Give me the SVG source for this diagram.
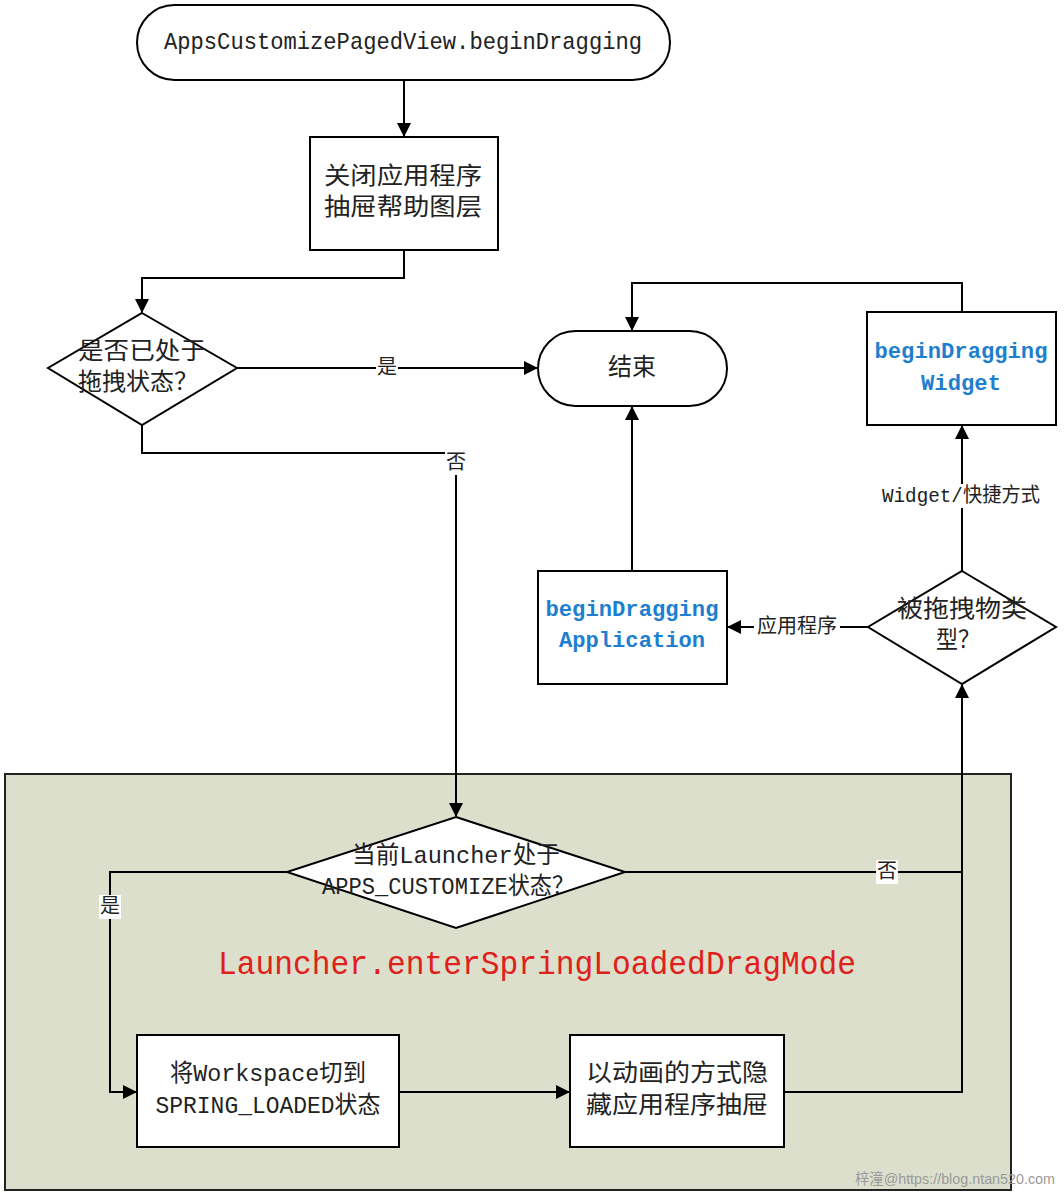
<svg xmlns="http://www.w3.org/2000/svg" width="1064" height="1196" viewBox="0 0 1064 1196">
<defs>
<marker id="ah" markerWidth="14" markerHeight="14" refX="13" refY="7" orient="auto" markerUnits="userSpaceOnUse">
<path d="M0,0 L14,7 L0,14 Z" fill="#000"/>
</marker>
<style>
.n{fill:#fff;stroke:#000;stroke-width:2}
.t{font-family:"Liberation Mono","Noto Sans CJK SC",monospace;font-size:24px;fill:#222;text-anchor:middle;dominant-baseline:central}
.b{font-family:"Liberation Mono","Noto Sans CJK SC",monospace;font-size:22px;font-weight:bold;fill:#1e7fd0;text-anchor:middle;dominant-baseline:central}
.l{font-family:"Liberation Mono","Noto Sans CJK SC",monospace;font-size:20px;fill:#222;text-anchor:middle;dominant-baseline:central}
.c{fill:none;stroke:#000;stroke-width:2}
.lb{fill:#fff}
</style>
</defs>
<rect width="1064" height="1196" fill="#fff"/>
<g id="region">
<rect x="5" y="774" width="1006" height="416" fill="#dcdfcc" stroke="#222" stroke-width="2"/>
<text x="537" y="965" font-family="Liberation Mono,monospace" font-size="34" fill="#e0201a" text-anchor="middle" dominant-baseline="central" textLength="638" lengthAdjust="spacingAndGlyphs">Launcher.enterSpringLoadedDragMode</text>
</g>
<g id="connectors">
<path class="c" d="M404,80 V136" marker-end="url(#ah)"/>
<path class="c" d="M404,250 V278 H142 V312" marker-end="url(#ah)"/>
<path class="c" d="M237,368 H537" marker-end="url(#ah)"/>
<path class="c" d="M142,425 V453 H456 V816" marker-end="url(#ah)"/>
<path class="c" d="M962,312 V283 H632 V330" marker-end="url(#ah)"/>
<path class="c" d="M632,571 V407" marker-end="url(#ah)"/>
<path class="c" d="M868,627 H728" marker-end="url(#ah)"/>
<path class="c" d="M962,571 V426" marker-end="url(#ah)"/>
<path class="c" d="M625,872 H962 V685" marker-end="url(#ah)"/>
<path class="c" d="M287,872 H110 V1092 H136" marker-end="url(#ah)"/>
<path class="c" d="M399,1092 H569" marker-end="url(#ah)"/>
<path class="c" d="M784,1092 H962 V872"/>
<rect class="lb" x="376" y="356" width="22" height="24"/>
<text class="l" x="387" y="368">是</text>
<rect class="lb" x="445" y="451" width="22" height="24"/>
<text class="l" x="456" y="463">否</text>
<rect class="lb" x="754" y="615" width="86" height="24"/>
<text class="l" x="797" y="627">应用程序</text>
<rect class="lb" x="880" y="484" width="162" height="24"/>
<text class="l" x="961" y="496" textLength="158" lengthAdjust="spacingAndGlyphs">Widget/快捷方式</text>
<rect class="lb" x="876" y="860" width="22" height="24"/>
<text class="l" x="887" y="872">否</text>
<rect class="lb" x="99" y="895" width="22" height="24"/>
<text class="l" x="110" y="907">是</text>
</g>
<g id="start">
<rect class="n" x="137" y="5" width="533" height="75" rx="37.5"/>
<text class="t" x="403" y="42" textLength="478" lengthAdjust="spacingAndGlyphs">AppsCustomizePagedView.beginDragging</text>
</g>
<g id="closeHelp">
<rect class="n" x="310" y="137" width="188" height="113"/>
<text class="t" x="403" y="177" font-size="26" textLength="158" lengthAdjust="spacingAndGlyphs">关闭应用程序</text>
<text class="t" x="403" y="208" font-size="26" textLength="158" lengthAdjust="spacingAndGlyphs">抽屉帮助图层</text>
</g>
<g id="isDragging">
<polygon class="n" points="142,313 237,368 142,425 48,368"/>
<text class="t" x="142" y="352" font-size="26" textLength="128" lengthAdjust="spacingAndGlyphs">是否已处于</text>
<text class="t" x="138" y="383" font-size="26" textLength="120" lengthAdjust="spacingAndGlyphs">拖拽状态？</text>
</g>
<g id="end">
<rect class="n" x="538" y="331" width="189" height="75" rx="37.5"/>
<text class="t" x="632" y="368" font-size="25">结束</text>
</g>
<g id="widget">
<rect class="n" x="867" y="312" width="189" height="113"/>
<text class="b" x="961" y="352" textLength="173" lengthAdjust="spacingAndGlyphs">beginDragging</text>
<text class="b" x="961" y="384" textLength="80" lengthAdjust="spacingAndGlyphs">Widget</text>
</g>
<g id="application">
<rect class="n" x="538" y="571" width="189" height="113"/>
<text class="b" x="632" y="610" textLength="173" lengthAdjust="spacingAndGlyphs">beginDragging</text>
<text class="b" x="632" y="641" textLength="146" lengthAdjust="spacingAndGlyphs">Application</text>
</g>
<g id="dragType">
<polygon class="n" points="962,571 1056,627 962,684 868,627"/>
<text class="t" x="962" y="610" font-size="26" textLength="130" lengthAdjust="spacingAndGlyphs">被拖拽物类</text>
<text class="t" x="958" y="641" font-size="26" textLength="44" lengthAdjust="spacingAndGlyphs">型？</text>
</g>
<g id="isAppsCustomize">
<polygon class="n" points="456,817 625,872 456,928 287,872"/>
<text class="t" x="456" y="856" textLength="208" lengthAdjust="spacingAndGlyphs">当前Launcher处于</text>
<text class="t" x="448" y="887" textLength="252" lengthAdjust="spacingAndGlyphs">APPS_CUSTOMIZE状态？</text>
</g>
<g id="switchWorkspace">
<rect class="n" x="137" y="1035" width="262" height="112"/>
<text class="t" x="268" y="1074" textLength="196" lengthAdjust="spacingAndGlyphs">将Workspace切到</text>
<text class="t" x="268" y="1106" textLength="225" lengthAdjust="spacingAndGlyphs">SPRING_LOADED状态</text>
</g>
<g id="hideDrawer">
<rect class="n" x="570" y="1035" width="214" height="112"/>
<text class="t" x="677" y="1074" textLength="182" lengthAdjust="spacingAndGlyphs">以动画的方式隐</text>
<text class="t" x="677" y="1106" textLength="182" lengthAdjust="spacingAndGlyphs">藏应用程序抽屉</text>
</g>
<text x="955" y="1178" font-family="Liberation Sans,Noto Sans CJK SC,sans-serif" font-size="15" fill="#9a9a9a" text-anchor="middle" dominant-baseline="central" textLength="200" lengthAdjust="spacingAndGlyphs">梓潼@https://blog.ntan520.com</text>
</svg>
